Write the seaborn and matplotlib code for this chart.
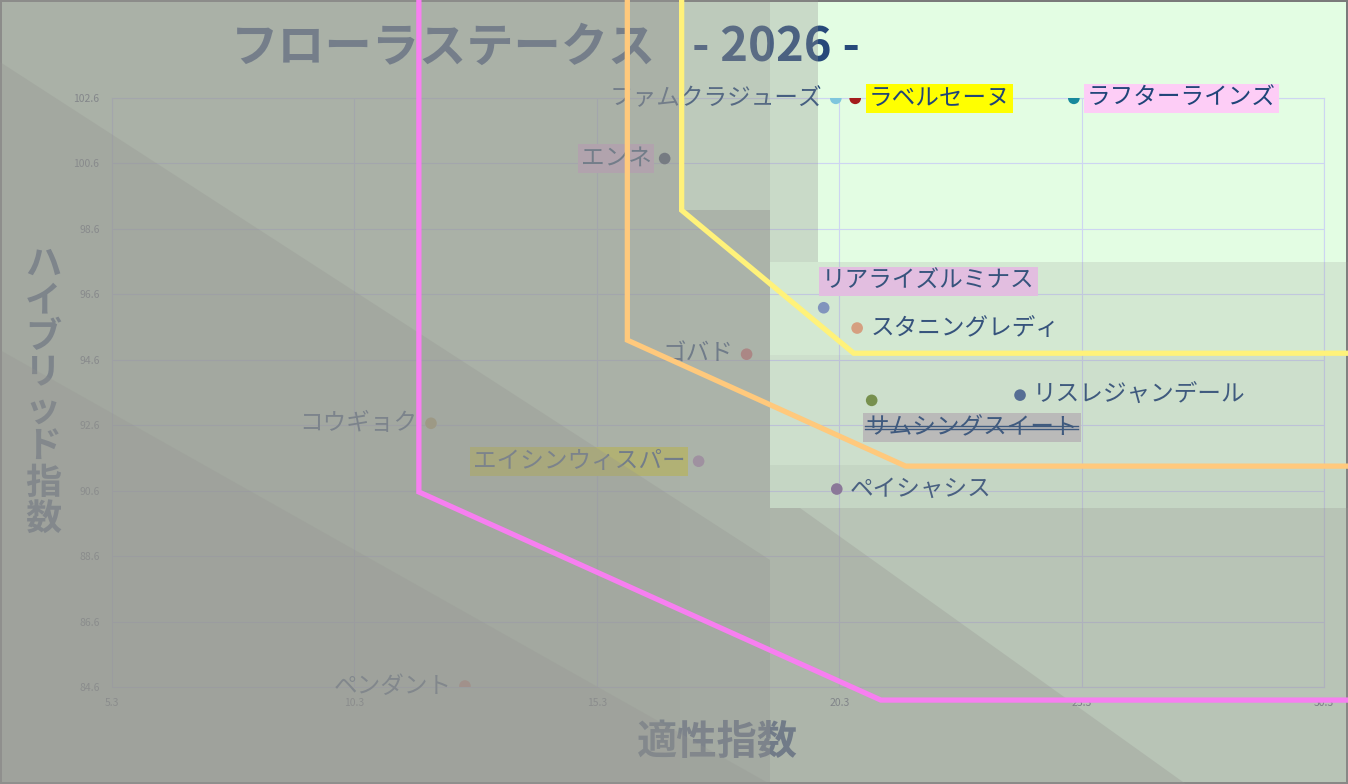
import matplotlib
matplotlib.use("Agg")  # headless
import matplotlib.pyplot as plt
from matplotlib.patches import Polygon
from matplotlib.lines import Line2D
import pandas as pd
import seaborn as sns

# ── Data ──────────────────────────────────────────────────────────────────────
horses = ["ファムクラジューズ", "ラベルセーヌ", "ラフターラインズ", "エンネ",
          "リアライズルミナス", "スタニングレディ", "ゴバド", "リスレジャンデール",
          "サムシングスイート", "コウギョク", "エイシンウィスパー", "ペイシャシス",
          "ペンダント"]
aptitude = [20.23, 20.63, 25.14, 16.70, 19.98, 20.67, 18.39, 24.03,
            20.97, 11.88, 17.40, 20.25, 12.58]
hybrid = [102.59, 102.59, 102.59, 100.75, 96.19, 95.57, 94.77, 93.52,
          93.36, 92.66, 91.50, 90.65, 84.63]

x_ticks = [5.3, 10.3, 15.3, 20.3, 25.3, 30.3]
y_ticks = [84.6, 86.6, 88.6, 90.6, 92.6, 94.6, 96.6, 98.6, 100.6, 102.6]

# boundary lines (data coords, run off the top / right of the plot)
pink_x = [11.63, 11.63, 21.16, 31.0]
pink_y = [106.0, 90.56, 84.20, 84.20]
orange_x = [15.93, 15.93, 21.67, 31.0]
orange_y = [106.0, 95.20, 91.35, 91.35]
yellow_x = [17.05, 17.05, 20.60, 31.0]
yellow_y = [106.0, 99.17, 94.80, 94.80]

# ── Styles ────────────────────────────────────────────────────────────────────
point_colors = ["#7fc6dd", "#a41c1c", "#17899c", "#2c3b5e", "#7d95c8", "#e6a27c",
                "#e36a6a", "#3f6096", "#6d8f35", "#c9b35a", "#b98ac6", "#86689e",
                "#f2866a"]
label_side = ["left", "right", "right", "left", "above", "right", "left", "right",
              "below", "left", "left", "right", "left"]
label_bg = [None, "#ffff00", "#fdcdf6", "#fdcdf6", "#f6c9f4", None, None, None,
            "#c9c9c9", None, "#fdfd30", None, None]
TEXT = "#1f4478"
BASE = "#e3fde3"
VEIL = "#949491"

plt.rcParams["font.family"] = ["Noto Sans CJK JP", "DejaVu Sans"]

fig = plt.figure(figsize=(13.48, 7.84), dpi=100)
fig.patch.set_facecolor(BASE)
fig.patch.set_edgecolor("#7a7a7a")
fig.patch.set_linewidth(1.5)

W, H = 1348, 784
ax = fig.add_axes([112 / W, 1 - 687 / H, 1212 / W, 589 / H])
ax.set_facecolor("none")
ax.set_axisbelow(True)

df = pd.DataFrame({"horse": horses, "x": aptitude, "y": hybrid})
sns.scatterplot(data=df, x="x", y="y", hue="horse", palette=point_colors,
                s=70, edgecolor="none", legend=False, zorder=3, ax=ax)

offsets = {"left": (-9.5, 0, "right"), "right": (9.5, 0, "left"),
           "above": (-1, 19, "left"), "below": (-4.5, -19.5, "left")}
strike_label = None
for name, xv, yv, side, bg in zip(horses, aptitude, hybrid, label_side, label_bg):
    dx, dy, ha = offsets[side]
    bbox = None if bg is None else dict(boxstyle="square,pad=0.12", fc=bg, ec="none")
    t = ax.annotate(name, (xv, yv), xytext=(dx, dy), textcoords="offset points",
                    ha=ha, va="center", fontsize=17, color=TEXT, bbox=bbox,
                    zorder=4, annotation_clip=False)
    if name == "サムシングスイート":
        strike_label = t

ax.set_xlim(5.3, 30.3)
ax.set_ylim(84.6, 102.6)
ax.set_xticks(x_ticks)
ax.set_yticks(y_ticks)
ax.set_xticklabels([f"{v:.1f}" for v in x_ticks])
ax.set_yticklabels([f"{v:.1f}" for v in y_ticks])
ax.tick_params(length=0, labelsize=7.5, labelcolor="#5a6478")
ax.tick_params(axis="x", pad=8)
ax.tick_params(axis="y", pad=9)
ax.grid(True, color="#cdd5f2", lw=0.8)
for sp in ax.spines.values():
    sp.set_color("#cdd5f2")
    sp.set_linewidth(0.8)

ax.set_xlabel("適性指数", fontsize=29, fontweight="bold", color="#2a4a78")
ax.xaxis.set_label_coords((717 - 112) / 1212, (687 - 742) / 589)
ax.xaxis.label.set_va("center")
ax.set_ylabel("\n".join("ハイブリッド指数"), fontsize=26, fontweight="bold",
              color="#2a4a78", rotation=0, linespacing=0.98)
ax.yaxis.set_label_coords((43 - 112) / 1212, (687 - 392) / 589)
ax.yaxis.label.set_va("center")
ax.yaxis.label.set_ha("center")

# title (sits under the veil like everything else)
ax.text(231 / W, 1 - 48 / H, "フローラステークス", transform=fig.transFigure,
        fontsize=34, fontweight="bold", color="#27497a", ha="left", va="center",
        zorder=3, clip_on=False)
ax.text(692 / W, 1 - 48 / H, "- 2026 -", transform=fig.transFigure,
        fontsize=34, fontweight="bold", color="#27497a", ha="left", va="center",
        zorder=3, clip_on=False)

# strikethrough on the crossed-out horse
fig.canvas.draw()
r = fig.canvas.get_renderer()
bb = strike_label.get_window_extent(r)
yc = (bb.y0 + bb.y1) / 2
for off in (-1.6, 1.6):
    ax.add_artist(Line2D([bb.x0, bb.x1], [yc + off, yc + off], transform=None,
                         color=TEXT, lw=1.0, zorder=4, clip_on=False))

# ── Grey veil: disjoint zones + a few diagonal bands (pixels, y from top) ──────
veils = [
    ([(770, 0), (818, 0), (818, 262), (770, 262)], 0.33),
    ([(770, 262), (W, 262), (W, 355), (770, 355)], 0.20),
    ([(770, 355), (W, 355), (W, 465), (770, 465)], 0.28),
    ([(770, 465), (W, 465), (W, 508), (770, 508)], 0.37),
    ([(770, 508), (W, 508), (W, H), (770, H)], 0.54),
    ([(680, 0), (770, 0), (770, 210), (680, 210)], 0.48),
    ([(680, 210), (770, 210), (770, H), (680, H)], 0.70),
    ([(0, 0), (680, 0), (680, H), (0, H)], 0.72),
    # diagonal bands
    ([(0, 62), (770, 560), (770, H), (0, H)], 0.29),
    ([(0, 350), (770, 784), (0, 784)], 0.25),
    ([(770, 508), (800, 508), (W, 900), (770, 900)], 0.30),
    ([(0, 0), (330, 0), (0, 60)], -0.0),
]
for pts, a in veils:
    if a <= 0:
        continue
    poly = Polygon([(px / W, 1 - py / H) for px, py in pts], closed=True,
                   transform=fig.transFigure, fc=VEIL, ec="none", alpha=a,
                   zorder=5, clip_on=False)
    ax.add_artist(poly)

# ── Boundary lines on top ─────────────────────────────────────────────────────
for xs, ys, c in [(pink_x, pink_y, "#f77ff0"), (orange_x, orange_y, "#ffc97c"),
                  (yellow_x, yellow_y, "#fff27a")]:
    ax.plot(xs, ys, color=c, lw=3.8, zorder=6, clip_on=False,
            solid_joinstyle="miter", solid_capstyle="butt")

fig.savefig("out.png", dpi=100, facecolor=fig.get_facecolor(),
            edgecolor=fig.get_edgecolor())
plt.close(fig)
